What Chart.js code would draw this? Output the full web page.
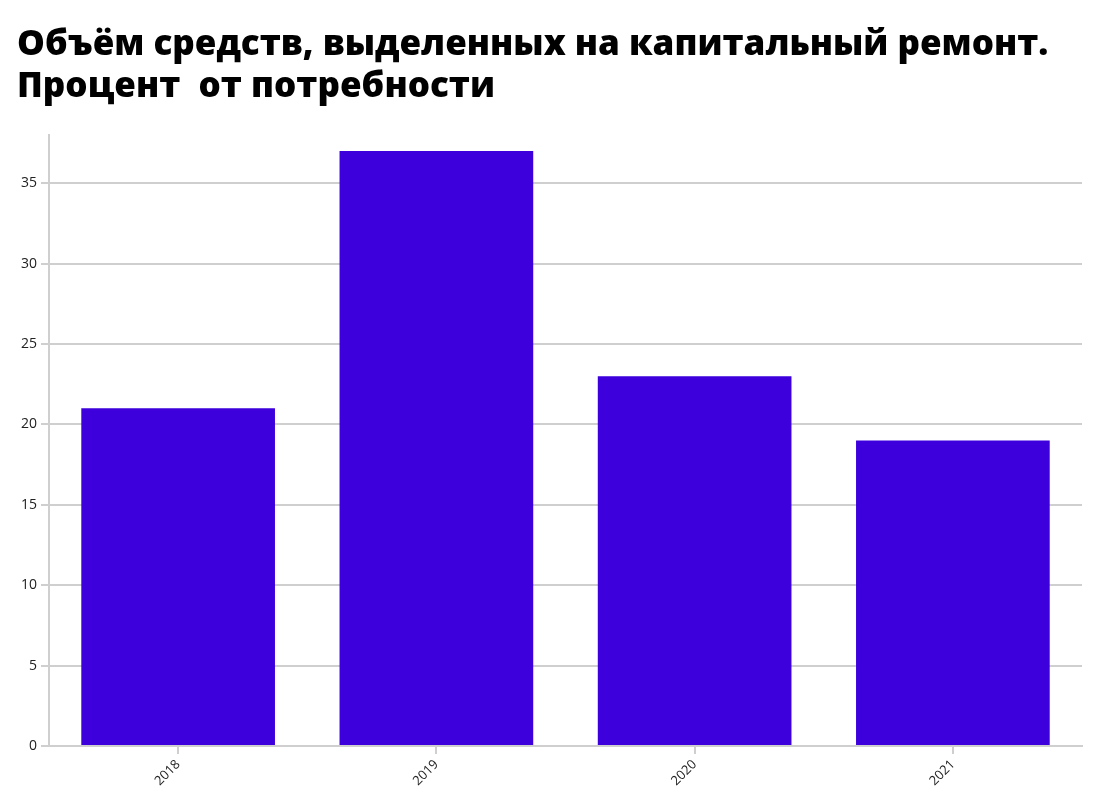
<!DOCTYPE html>
<html>
<head>
<meta charset="utf-8">
<script src="https://cdn.jsdelivr.net/npm/chart.js@4"></script>
<style>
  html, body { margin: 0; padding: 0; background: #fff; }
  #wrap { width: 1108px; height: 800px; }
</style>
</head>
<body>
<div id="wrap"><canvas id="chart"></canvas></div>
<script>
  const years = ['2018', '2019', '2020', '2021'];
  const percentOfNeed = [21, 37, 23, 19];
  const titleLines = ['Объём средств, выделенных на капитальный ремонт.', 'Процент  от потребности'];

  const GRID = '#cfcfcf';

  new Chart(document.getElementById('chart'), {
    type: 'bar',
    data: {
      labels: years,
      datasets: [{
        data: percentOfNeed,
        backgroundColor: '#3d00dc',
        barPercentage: 0.75,
        categoryPercentage: 1
      }]
    },
    options: {
      responsive: true,
      maintainAspectRatio: false,
      animation: false,
      layout: { padding: { left: 17, right: 26, top: 24, bottom: 8 } },
      plugins: {
        legend: { display: false },
        tooltip: { enabled: false },
        title: {
          display: true,
          text: titleLines,
          align: 'start',
          color: '#000',
          font: { family: 'Open Sans', size: 35, weight: '800', lineHeight: 1.2 },
          padding: { top: 0, bottom: 27 }
        }
      },
      scales: {
        x: {
          grid: { display: true, offset: false, drawOnChartArea: false, color: GRID, lineWidth: 2, tickLength: 8 },
          border: { color: GRID, width: 2 },
          ticks: { color: '#222', font: { family: 'Open Sans', size: 13 }, maxRotation: 45, minRotation: 45 }
        },
        y: {
          min: 0,
          max: 38,
          grid: { color: GRID, lineWidth: 2, tickLength: 8 },
          border: { color: GRID, width: 2 },
          ticks: { stepSize: 5, includeBounds: false, color: '#222', font: { family: 'Open Sans', size: 14 }, padding: 4 }
        }
      }
    }
  });
</script>
</body>
</html>
